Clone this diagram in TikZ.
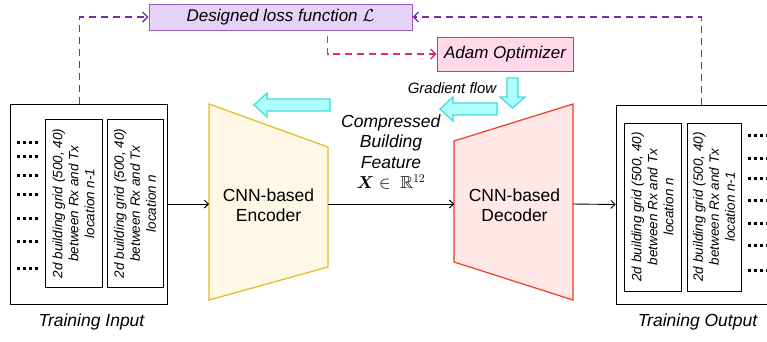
\documentclass[tikz,border=0pt]{standalone}
\usepackage{fontspec}
\setmainfont{Liberation Sans}
\usepackage{amssymb}
\usepackage{bm}
\usetikzlibrary{arrows.meta}

\definecolor{lossline}{HTML}{7030A0}
\definecolor{lossfill}{HTML}{E4D2F8}
\definecolor{lossdraw}{HTML}{9A5CC8}
\definecolor{adamline}{HTML}{E8287A}
\definecolor{adamfill}{HTML}{FFD8EA}
\definecolor{encdraw}{HTML}{E8B820}
\definecolor{encfill}{HTML}{FFF8E4}
\definecolor{decdraw}{HTML}{F43A24}
\definecolor{decfill}{HTML}{FFE8E6}
\definecolor{gradfill}{HTML}{AEFFFF}
\definecolor{graddraw}{HTML}{3EDCD8}

\tikzset{
  outbox/.style={draw, line width=1pt, inner sep=0pt},
  gridbox/.style={draw, line width=0.9pt, rotate=90, minimum width=168pt, inner sep=0pt,
    align=center, font=\fontsize{13.5}{16}\selectfont\itshape},
  lossbox/.style={draw=lossdraw, fill=lossfill, line width=1pt, minimum width=263pt,
    minimum height=26pt, inner sep=0pt, font=\fontsize{17}{20}\selectfont\itshape},
  adambox/.style={draw=adamline, fill=adamfill, line width=1pt, minimum width=136pt,
    minimum height=34pt, inner sep=0pt, font=\fontsize{17}{20}\selectfont\itshape},
  feedback/.style={line width=1.4pt, dash pattern=on 7pt off 5pt,
    -{Straight Barb[length=5pt,width=10pt,line width=1.4pt]}},
  dataflow/.style={line width=0.9pt, -{Straight Barb[length=4pt,width=8pt]}},
  gradarrow/.style={draw=graddraw, fill=gradfill, line width=1.2pt, line join=miter},
  caption/.style={font=\fontsize{17.5}{20}\selectfont\itshape},
  netlabel/.style={align=center, font=\fontsize{17.5}{20}\selectfont},
}

\begin{document}
\begin{tikzpicture}[x=1pt,y=-1pt]
    \useasboundingbox (0,0) rectangle (767,341);

    % training input
    \node[outbox, minimum width=157pt, minimum height=200pt] (inp) at (88.5,204) {};
    \node[gridbox, minimum height=57pt] (in1) at (73.5,203.5) {2d building grid (500, 40)\\between Rx and Tx\\location n-1};
    \node[gridbox, minimum height=56pt] (in2) at (135,203.5) {2d building grid (500, 40)\\between Rx and Tx\\location n};
    \foreach \y in {142,156,175,194,218,241,268}
        \draw[line width=3pt, dash pattern=on 3pt off 3pt] (17,\y) -- (40,\y);
    \node[caption] (inpcap) at (91.5,322) {Training Input};

    % training output
    \node[outbox, minimum width=151pt, minimum height=199pt] (out) at (691.5,204.5) {};
    \node[gridbox, minimum height=57pt] (out1) at (652.5,207) {2d building grid (500, 40)\\between Rx and Tx\\location n};
    \node[gridbox, minimum height=54pt] (out2) at (714,207) {2d building grid (500, 40)\\between Rx and Tx\\location n-1};
    \foreach \y in {135,158,178,200,223,245,270}
        \draw[line width=3pt, dash pattern=on 3pt off 3pt] (748,\y) -- (768,\y);
    \node[caption] (outcap) at (697.5,322) {Training Output};

    % encoder and decoder
    \draw[draw=encdraw, fill=encfill, line width=1.2pt] (209,104) -- (328,147) -- (328,267) -- (209,300) -- cycle;
    \draw[draw=decdraw, fill=decfill, line width=1.2pt] (454,141) -- (573,104) -- (573,300) -- (454,262) -- cycle;
    \coordinate (encL) at (209,204);
    \coordinate (encR) at (328,204);
    \coordinate (decL) at (454,204);
    \coordinate (decR) at (573,204);
    \node[netlabel] (enc) at (268.5,205) {CNN-based\\Encoder};
    \node[netlabel] (dec) at (514.5,205) {CNN-based\\Decoder};
    \node[netlabel, font=\fontsize{17.5}{20.5}\selectfont] (feat) at (391,152)
        {\textit{Compressed}\\\textit{Building}\\\textit{Feature}\\$\bm{X}\in\ \mathbb{R}^{12}$};

    \draw[dataflow] (inp.east) -- (encL);
    \draw[dataflow] (encR) -- (decL);
    \draw[dataflow] (decR) -- (out.west);

    % loss and optimizer
    \node[lossbox] (loss) at (280.5,17) {Designed loss function $\mathcal{L}$};
    \node[adambox] (adam) at (505,54) {Adam Optimizer};
    \draw[feedback, lossline] (inp.north west) ++(70,0) |- (loss.west);
    \draw[feedback, lossline] (out.north west) ++(86,0) |- (loss.east);
    \draw[feedback, adamline] (loss.south west) ++(179,5) |- (adam.west);

    % gradient flow
    \node[font=\fontsize{15}{18}\selectfont\itshape] (grad) at (452,88) {Gradient flow};
    \foreach \x/\y/\l in {254/105/76, 440/109/57}
        \draw[gradarrow] (\x,\y) -- ++(13,-12) -- ++(0,6) -- ++(\l-13,0) -- ++(0,12)
            -- ++(-\l+13,0) -- ++(0,6) -- cycle;
    \draw[gradarrow] (512.5,108) -- ++(-12.5,-11) -- ++(7,0) -- ++(0,-19) -- ++(11,0)
        -- ++(0,19) -- ++(7,0) -- cycle;
\end{tikzpicture}
\end{document}
